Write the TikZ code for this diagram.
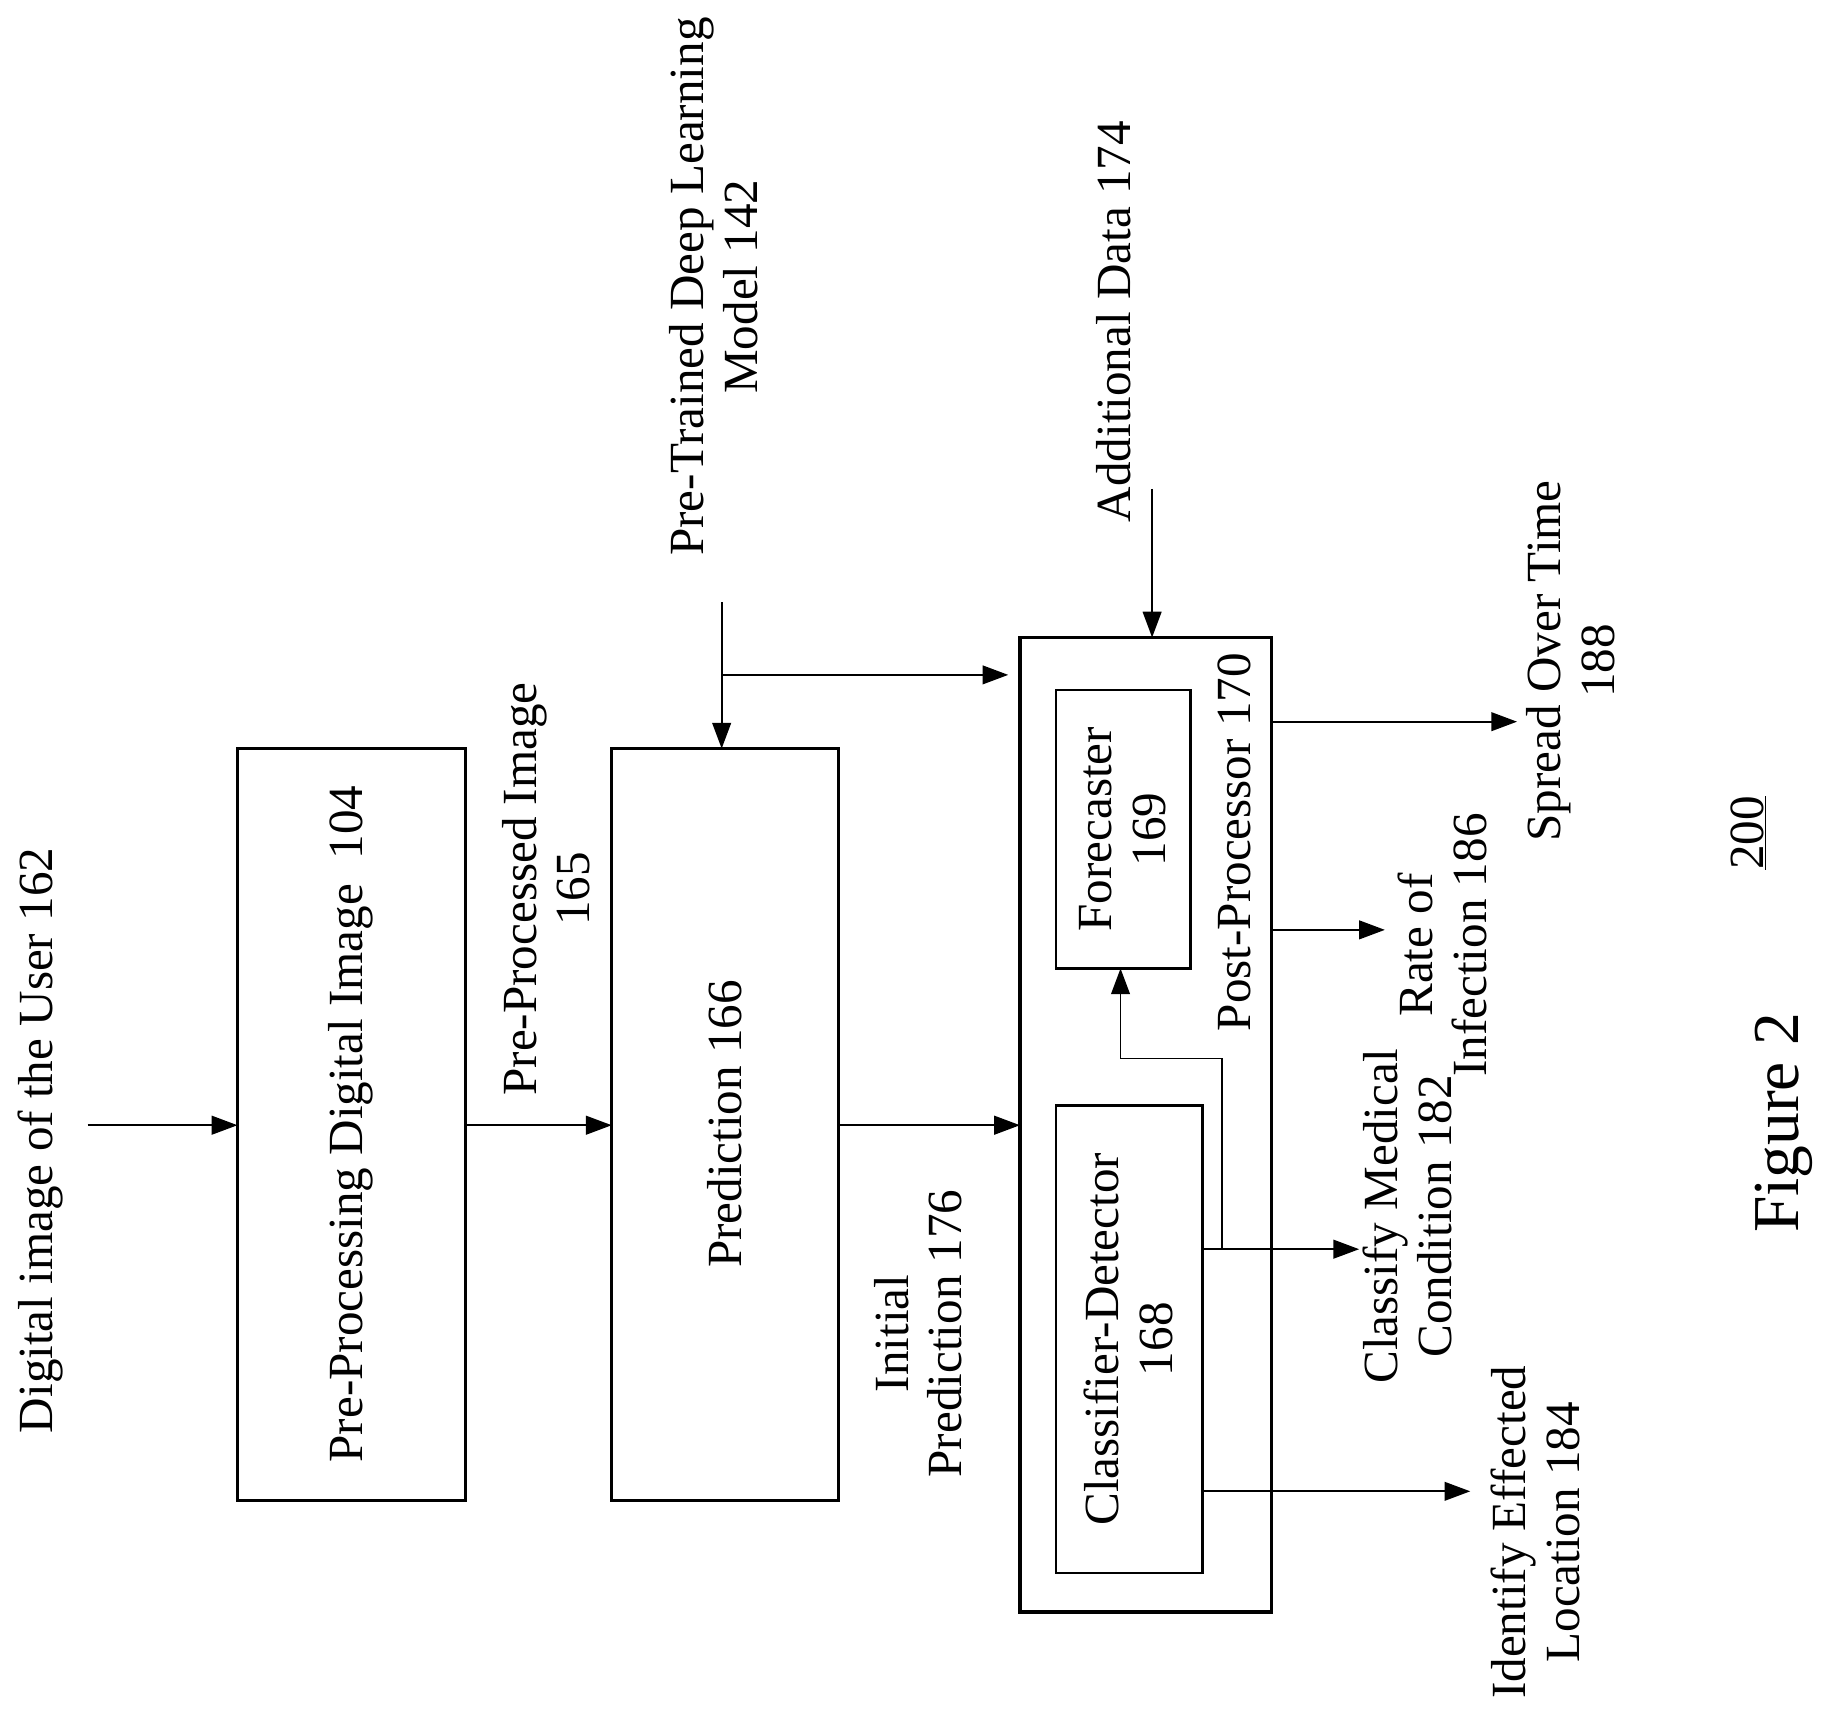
\documentclass[tikz,border=0pt]{standalone}
\usepackage{fontspec}
\setmainfont{Liberation Serif}
\usetikzlibrary{arrows.meta}
\begin{document}
\begin{tikzpicture}[x=1pt,y=-1pt,
  ln/.style={line width=1.6pt},
  ar/.style={ln,-{Triangle[length=22pt,width=16pt]}},
  bx/.style={draw,line width=2.2pt},
  lb/.style={rotate=90,font=\fontsize{42}{46}\selectfont,align=center,inner sep=0pt}]
\useasboundingbox (0,0) rectangle (1568,1478);
% boxes
\draw[bx] (203,640) rectangle (398,1283);
\node[lb] (pre) at (300,961) {Pre-Processing Digital Image~~104};
\draw[bx] (523,640) rectangle (717,1283);
\node[lb] (pred) at (620,961) {Prediction 166};
\draw[line width=3pt] (872,545) rectangle (1087,1378);
\node[lb] (post) at (1055,720) {Post-Processor 170};
\draw[bx] (903,590) rectangle (1018,828);
\node[lb] (fc) at (960,709) {Forecaster\\169};
\draw[bx] (903,945) rectangle (1028,1345);
\node[lb] (cd) at (965,1145) {Classifier-Detector\\168};
% coordinates
\coordinate (i0) at (75,962); \coordinate (i1) at (203,962);
\coordinate (p0) at (398,962); \coordinate (p1) at (523,962);
\coordinate (q0) at (717,962); \coordinate (q1) at (872,962);
\draw[ar] (i0)--(i1); \draw[ar] (p0)--(p1); \draw[ar] (q0)--(q1);
\coordinate (m0) at (617,515); \coordinate (m1) at (617,640);
\coordinate (mb) at (617,577); \coordinate (mc) at (862,577);
\draw[ar] (m0)--(m1); \draw[ar] (mb)--(mc);
\coordinate (a0) at (985,418); \coordinate (a1) at (985,545);
\draw[ar] (a0)--(a1);
\coordinate (s0) at (1087,617); \coordinate (s1) at (1297,617);
\draw[ar] (s0)--(s1);
\coordinate (r0) at (1087,795); \coordinate (r1) at (1184,795);
\draw[ar] (r0)--(r1);
\coordinate (c0) at (1028,1068); \coordinate (c1) at (1162,1068);
\draw[ar] (c0)--(c1);
\coordinate (b0) at (1045,1068); \coordinate (b1) at (1045,905);
\coordinate (b2) at (958,905); \coordinate (b3) at (958,828);
\draw[ar] (b0)--(b1)--(b2)--(b3);
\coordinate (e0) at (1028,1275); \coordinate (e1) at (1257,1275);
\draw[ar] (e0)--(e1);
% labels
\node[lb] (l162) at (35,975) {Digital image of the User 162};
\node[lb] (l165) at (467,760) {Pre-Processed Image\\165};
\node[lb] (l176) at (785,1140) {Initial\\Prediction 176};
\node[lb] (l142) at (610,245) {Pre-Trained Deep Learning\\Model 142};
\node[lb] (l174) at (952,275) {Additional Data 174};
\node[lb] (l188) at (1343,565) {Spread Over Time\\188};
\node[lb] (l186) at (1233,808) {Rate of\\Infection 186};
\node[lb] (l182) at (1203,1040) {Classify Medical\\Condition 182};
\node[lb] (l184) at (1313,1310) {Identify Effected\\Location 184};
\node[lb] (l200) at (1495,712) {\underline{200}};
\node[lb,font=\fontsize{56}{60}\selectfont] (fig) at (1525,960) {Figure 2};
\end{tikzpicture}
\end{document}
